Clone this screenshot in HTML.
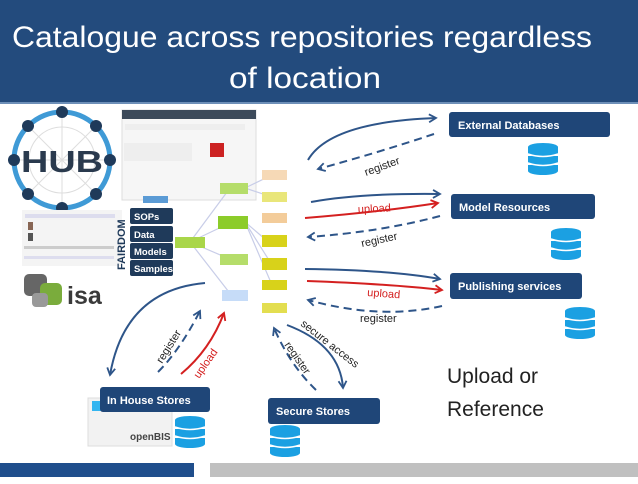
<!DOCTYPE html>
<html><head><meta charset="utf-8"><style>
body{margin:0;width:638px;height:479px;overflow:hidden;background:#fff;font-family:"Liberation Sans",sans-serif}
</style></head><body>
<svg width="638" height="479" viewBox="0 0 638 479" xmlns="http://www.w3.org/2000/svg" font-family="Liberation Sans, sans-serif">
<defs>
<marker id="ab" markerWidth="10" markerHeight="10" refX="8" refY="5" orient="auto" markerUnits="userSpaceOnUse"><path d="M1,1 L8,5 L1,9" fill="none" stroke="#2e5589" stroke-width="1.8"/></marker>
<marker id="ar" markerWidth="10" markerHeight="10" refX="8" refY="5" orient="auto" markerUnits="userSpaceOnUse"><path d="M1,1 L8,5 L1,9" fill="none" stroke="#d42020" stroke-width="1.8"/></marker>
<g id="db"><ellipse cx="15" cy="4" rx="15" ry="4" fill="#1ba0e2"/><rect x="0" y="4" width="30" height="6" fill="#1ba0e2"/><ellipse cx="15" cy="10" rx="15" ry="4" fill="#1ba0e2"/><rect x="0" y="13" width="30" height="6" fill="#1ba0e2"/><ellipse cx="15" cy="19" rx="15" ry="4" fill="#1ba0e2"/><rect x="0" y="22" width="30" height="6" fill="#1ba0e2"/><ellipse cx="15" cy="28" rx="15" ry="4" fill="#1ba0e2"/>
<path d="M0,11 Q15,16 30,11 M0,20 Q15,25 30,20" stroke="#fff" stroke-width="1.5" fill="none"/></g>
</defs>
<rect x="0" y="0" width="638" height="102" fill="#234b7d"/>
<rect x="0" y="102" width="638" height="2" fill="#6d8fb8"/>
<text x="12" y="47" font-size="30" fill="#fff" textLength="580" lengthAdjust="spacingAndGlyphs">Catalogue across repositories regardless</text>
<text x="229" y="88" font-size="30" fill="#fff" textLength="152" lengthAdjust="spacingAndGlyphs">of location</text>

<!-- HUB logo -->
<g transform="translate(62,160)">
<circle r="48" fill="none" stroke="#3f9ad6" stroke-width="5"/>
<g stroke="#ddd" stroke-width="1" fill="none"><circle r="33"/><line x1="-48" y1="0" x2="48" y2="0"/><line x1="0" y1="-48" x2="0" y2="48"/><line x1="-34" y1="-34" x2="34" y2="34"/><line x1="34" y1="-34" x2="-34" y2="34"/></g>
<g fill="#1f3a5a"><circle cx="0" cy="-48" r="6"/><circle cx="0" cy="48" r="6"/><circle cx="-48" cy="0" r="6"/><circle cx="48" cy="0" r="6"/><circle cx="34" cy="-34" r="6"/><circle cx="-34" cy="-34" r="6"/><circle cx="34" cy="34" r="6"/><circle cx="-34" cy="34" r="6"/></g>
<text x="0" y="12" text-anchor="middle" font-size="31" font-weight="bold" fill="#2a3a4e" textLength="82" lengthAdjust="spacingAndGlyphs">HUB</text>
</g>
<!-- screenshot -->
<rect x="122" y="110" width="134" height="90" fill="#f6f6f6" stroke="#ddd"/>
<rect x="122" y="110" width="134" height="9" fill="#3c4a5a"/>
<rect x="125" y="124" width="120" height="6" fill="#eee"/>
<rect x="124" y="143" width="68" height="18" fill="#eee"/>
<rect x="210" y="143" width="14" height="14" fill="#c22"/>
<rect x="22" y="210" width="100" height="56" fill="#f4f4f4"/>
<rect x="25" y="214" width="90" height="4" fill="#dde"/><rect x="28" y="222" width="5" height="8" fill="#865"/><rect x="28" y="233" width="5" height="8" fill="#555"/>
<rect x="24" y="246" width="90" height="3" fill="#ccc"/><rect x="24" y="256" width="90" height="3" fill="#dde"/>
<rect x="143" y="196" width="25" height="7" fill="#5b9bd5"/>
<!-- mind map -->
<g stroke="#c8cde8" stroke-width="1.2"><line x1="190" y1="242" x2="230" y2="188"/><line x1="190" y1="242" x2="232" y2="222"/><line x1="190" y1="242" x2="232" y2="260"/><line x1="190" y1="242" x2="232" y2="296"/><line x1="245" y1="222" x2="272" y2="245"/><line x1="245" y1="222" x2="272" y2="265"/><line x1="245" y1="222" x2="272" y2="285"/><line x1="245" y1="188" x2="272" y2="175"/><line x1="245" y1="188" x2="272" y2="197"/></g>
<rect x="175" y="237" width="30" height="11" fill="#a9d64a"/>
<rect x="220" y="183" width="28" height="11" fill="#b5dd6a"/>
<rect x="218" y="216" width="30" height="13" fill="#8ccc2a"/>
<rect x="220" y="254" width="28" height="11" fill="#b5dd6a"/>
<rect x="222" y="290" width="26" height="11" fill="#c6dcf8"/>
<rect x="262" y="170" width="25" height="10" fill="#f6d9b6"/>
<rect x="262" y="192" width="25" height="10" fill="#e9e67a"/>
<rect x="262" y="213" width="25" height="10" fill="#f3cc9a"/>
<rect x="262" y="235" width="25" height="12" fill="#d8d21a"/>
<rect x="262" y="258" width="25" height="12" fill="#d8d21a"/>
<rect x="262" y="280" width="25" height="10" fill="#d8d21a"/>
<rect x="262" y="303" width="25" height="10" fill="#e3de50"/>
<!-- FAIRDOM -->
<text transform="translate(125,270) rotate(-90)" font-size="11" font-weight="bold" fill="#1f3a5a">FAIRDOM</text>
<g font-size="9.5" font-weight="bold" fill="#fff">
<rect x="130" y="208" width="43" height="16" rx="2" fill="#1f3a5a"/><text x="134" y="220">SOPs</text>
<rect x="130" y="226" width="43" height="16" rx="2" fill="#1f3a5a"/><text x="134" y="238">Data</text>
<rect x="130" y="243" width="43" height="16" rx="2" fill="#1f3a5a"/><text x="134" y="255">Models</text>
<rect x="130" y="260" width="43" height="16" rx="2" fill="#1f3a5a"/><text x="134" y="272">Samples</text>
</g>
<!-- isa -->
<rect x="24" y="274" width="23" height="22" rx="5" fill="#666"/>
<rect x="40" y="283" width="22" height="22" rx="5" fill="#7aac3c"/>
<rect x="32" y="293" width="16" height="14" rx="4" fill="#999"/>
<text x="67" y="304" font-size="25" font-weight="bold" fill="#3a3a3a">isa</text>
<!-- openBIS -->
<rect x="88" y="398" width="84" height="48" fill="#f2f2f2" stroke="#ddd"/>
<rect x="92" y="401" width="14" height="10" fill="#33b5f0"/>
<text x="130" y="440" font-size="10" font-weight="bold" fill="#444">openBIS</text>
<!-- boxes -->
<g font-size="11" font-weight="bold" fill="#fff">
<rect x="449" y="112" width="161" height="25" rx="3" fill="#1f4678"/><text x="458" y="129">External Databases</text>
<rect x="451" y="194" width="144" height="25" rx="3" fill="#1f4678"/><text x="459" y="211">Model Resources</text>
<rect x="450" y="273" width="132" height="26" rx="3" fill="#1f4678"/><text x="458" y="290">Publishing services</text>
<rect x="100" y="387" width="110" height="25" rx="3" fill="#1f4678"/><text x="107" y="404">In House Stores</text>
<rect x="268" y="398" width="112" height="26" rx="3" fill="#1f4678"/><text x="276" y="415">Secure  Stores</text>
</g>
<use href="#db" x="528" y="143"/>
<use href="#db" x="551" y="228"/>
<use href="#db" x="565" y="307"/>
<use href="#db" x="175" y="416"/>
<use href="#db" x="270" y="425"/>
<!-- arrows -->
<g fill="none" stroke-width="2">
<path d="M308,160 Q330,122 436,118" stroke="#2e5589" marker-end="url(#ab)"/>
<path d="M434,134 Q380,152 318,169" stroke="#2e5589" stroke-dasharray="8,5" marker-end="url(#ab)"/>
<path d="M311,202 Q360,193 440,194" stroke="#2e5589" marker-end="url(#ab)"/>
<path d="M305,218 Q380,212 438,203" stroke="#d42020" marker-end="url(#ar)"/>
<path d="M440,216 Q380,232 308,237" stroke="#2e5589" stroke-dasharray="8,5" marker-end="url(#ab)"/>
<path d="M305,269 Q390,270 440,279" stroke="#2e5589" marker-end="url(#ab)"/>
<path d="M307,281 Q390,284 442,290" stroke="#d42020" marker-end="url(#ar)"/>
<path d="M442,306 Q380,320 308,300" stroke="#2e5589" stroke-dasharray="8,5" marker-end="url(#ab)"/>
<path d="M287,325 Q340,345 343,388" stroke="#2e5589" marker-end="url(#ab)"/>
<path d="M316,390 Q290,365 274,328" stroke="#2e5589" stroke-dasharray="8,5" marker-end="url(#ab)"/>
<path d="M205,283 Q125,290 110,375" stroke="#2e5589" marker-end="url(#ab)"/>
<path d="M158,372 Q180,350 200,311" stroke="#2e5589" stroke-dasharray="8,5" marker-end="url(#ab)"/>
<path d="M181,374 Q210,350 224,313" stroke="#d42020" marker-end="url(#ar)"/>
</g>
<g font-size="11">
<text transform="translate(366,176) rotate(-20)" fill="#222">register</text>
<text x="358" y="213" fill="#d42020" transform="rotate(-3 358 213)">upload</text>
<text transform="translate(362,247) rotate(-12)" fill="#222">register</text>
<text x="367" y="296" fill="#d42020" transform="rotate(4 367 296)">upload</text>
<text x="360" y="322" fill="#222">register</text>
<text transform="translate(300,325) rotate(38)" fill="#222">secure access</text>
<text transform="translate(284,345) rotate(55)" fill="#222">register</text>
<text transform="translate(162,364) rotate(-58)" fill="#222">register</text>
<text transform="translate(199,379) rotate(-55)" fill="#d42020">upload</text>
</g>
<text x="447" y="383" font-size="21" fill="#222">Upload or</text>
<text x="447" y="416" font-size="21" fill="#222">Reference</text>
<rect x="0" y="463" width="194" height="14" fill="#1f4e8c"/>
<rect x="210" y="463" width="428" height="14" fill="#c0c0c0"/>
</svg>
</body></html>
